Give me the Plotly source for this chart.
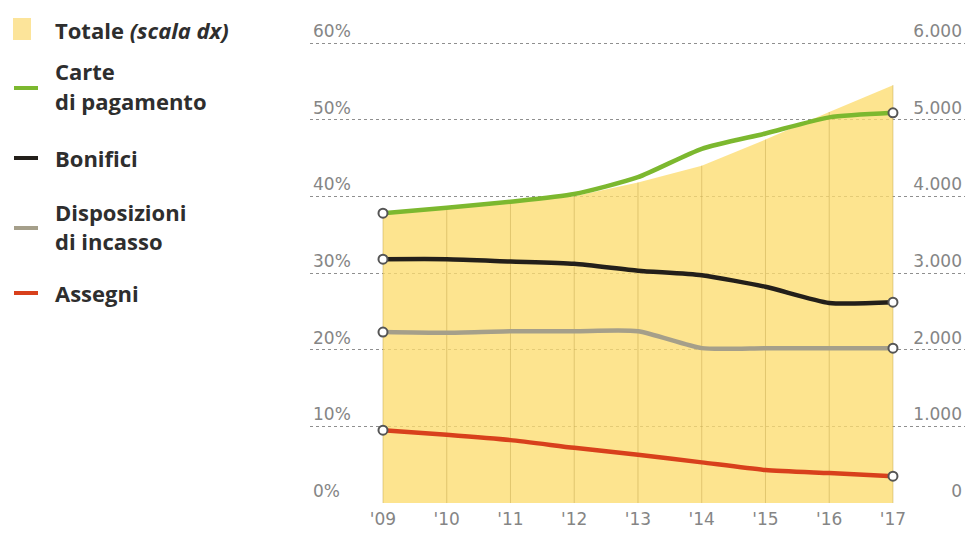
import plotly.graph_objects as go

# ---------------- data ----------------
years = [2009, 2010, 2011, 2012, 2013, 2014, 2015, 2016, 2017]
year_labels = ["'09", "'10", "'11", "'12", "'13", "'14", "'15", "'16", "'17"]

totale = [3780, 3850, 3920, 4000, 4180, 4400, 4740, 5100, 5450]          # right scale
carte = [37.8, 38.5, 39.3, 40.3, 42.5, 46.2, 48.2, 50.3, 50.9]            # %
bonifici = [31.8, 31.8, 31.5, 31.2, 30.3, 29.7, 28.2, 26.1, 26.2]         # %
disposizioni = [22.3, 22.2, 22.4, 22.4, 22.4, 20.2, 20.2, 20.2, 20.2]     # %
assegni = [9.5, 8.9, 8.2, 7.2, 6.3, 5.3, 4.3, 3.9, 3.5]                   # %

left_ticks = [0, 10, 20, 30, 40, 50, 60]
left_labels = ["0%", "10%", "20%", "30%", "40%", "50%", "60%"]
right_ticks = [0, 1000, 2000, 3000, 4000, 5000, 6000]
right_labels = ["0", "1.000", "2.000", "3.000", "4.000", "5.000", "6.000"]

series = [
    ("Carte di pagamento", carte, "#7cb82f"),
    ("Bonifici", bonifici, "#231f1a"),
    ("Disposizioni di incasso", disposizioni, "#a59f8a"),
    ("Assegni", assegni, "#d8401c"),
]

# ---------------- layout geometry ----------------
W, H = 973, 533
ML, MR, MT, MB = 310, 8, 16, 30
PW, PH = W - ML - MR, H - MT - MB
PX_PER_PCT = 460 / 60.0
TOP_PCT = PH / PX_PER_PCT


def px(x):
    return (x - ML) / PW


def py(y):
    return (H - MB - y) / PH


fig = go.Figure()

# Totale area (base axis, right scale)
fig.add_trace(go.Scatter(
    x=years, y=totale, mode="lines", fill="tozeroy",
    fillcolor="rgba(252,220,112,0.78)", line=dict(width=0, color="rgba(0,0,0,0)"),
    xaxis="x", yaxis="y", hoverinfo="skip", showlegend=False,
))

# vertical year lines inside the area
vx, vy = [], []
for yr, t in zip(years, totale):
    vx += [yr, yr, None]
    vy += [0, t, None]
fig.add_trace(go.Scatter(
    x=vx, y=vy, mode="lines", line=dict(width=1, color="rgba(190,160,70,0.45)"),
    xaxis="x", yaxis="y", hoverinfo="skip", showlegend=False,
))

# percentage lines (overlay axis, left scale)
for name, vals, col in series:
    fig.add_trace(go.Scatter(
        x=years, y=vals, mode="lines", name=name,
        line=dict(color=col, width=4.5, shape="spline", smoothing=0.6),
        xaxis="x", yaxis="y2", showlegend=False,
    ))
    fig.add_trace(go.Scatter(
        x=[years[0], years[-1]], y=[vals[0], vals[-1]], mode="markers",
        marker=dict(size=9, color="white", line=dict(color="#555", width=2)),
        xaxis="x", yaxis="y2", showlegend=False, hoverinfo="skip",
    ))

tick_font = dict(family="'DejaVu Sans', sans-serif", size=17, color="#858585")

fig.update_layout(
    width=W, height=H, autosize=False,
    margin=dict(l=ML, r=MR, t=MT, b=MB),
    paper_bgcolor="white", plot_bgcolor="white",
    showlegend=False,
    xaxis=dict(
        range=[2007.855, 2018.13], tickvals=years, ticktext=year_labels,
        showgrid=False, zeroline=False, showline=False, ticks="",
        tickfont=tick_font, fixedrange=True, ticklabelstandoff=4,
        automargin=False,
    ),
    yaxis=dict(
        range=[0, TOP_PCT * 100], side="right", tickvals=right_ticks, ticktext=right_labels,
        ticklabelposition="inside top", showgrid=True, gridcolor="#8f8f8f",
        griddash="dot", gridwidth=1, zeroline=False, showline=False, ticks="",
        tickfont=tick_font, automargin=False,
    ),
    yaxis2=dict(
        range=[0, TOP_PCT], side="left", overlaying="y", tickvals=left_ticks,
        ticktext=left_labels, ticklabelposition="inside top", showgrid=False,
        zeroline=False, showline=False, ticks="", tickfont=tick_font,
        automargin=False,
    ),
)

# ---------------- custom legend ----------------
leg_font = dict(family="'Open Sans', sans-serif", size=22, color="#2e2e2e")
shapes = [dict(type="rect", xref="paper", yref="paper",
               x0=px(13), x1=px(31), y0=py(40), y1=py(18),
               fillcolor="#fce49a", line=dict(width=0))]
for ycen, col in [(88, "#7cb82f"), (158, "#231f1a"), (228, "#a59f8a"), (293, "#d8401c")]:
    shapes.append(dict(type="line", xref="paper", yref="paper",
                       x0=px(14), x1=px(38), y0=py(ycen), y1=py(ycen),
                       line=dict(color=col, width=4)))

legend_texts = [
    (30, "<b>Totale <i>(scala dx)</i></b>"),
    (71, "<b>Carte</b>"),
    (101, "<b>di pagamento</b>"),
    (158, "<b>Bonifici</b>"),
    (212, "<b>Disposizioni</b>"),
    (241, "<b>di incasso</b>"),
    (293, "<b>Assegni</b>"),
]
annotations = []
for ycen, txt in legend_texts:
    annotations.append(dict(
        xref="paper", yref="paper", x=px(53), y=py(ycen), text=txt,
        showarrow=False, xanchor="left", yanchor="middle", font=leg_font,
    ))

fig.update_layout(shapes=shapes, annotations=annotations)

fig.write_html("out.html")
